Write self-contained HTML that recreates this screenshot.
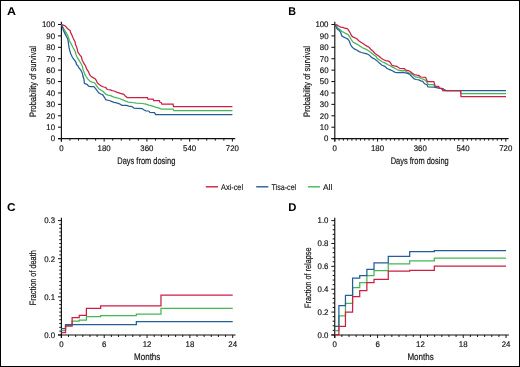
<!DOCTYPE html>
<html><head><meta charset="utf-8"><title>Figure</title>
<style>
html,body{margin:0;padding:0;background:#fff;}
body{width:520px;height:367px;overflow:hidden;}
svg{display:block;will-change:transform;}
text{text-rendering:geometricPrecision;}
.tk{font-family:"Liberation Sans", sans-serif;font-size:8.2px;fill:#111;stroke:#111;stroke-width:0.16px;}
.al{font-family:"Liberation Sans", sans-serif;font-size:9.6px;fill:#111;stroke:#111;stroke-width:0.18px;}
.lg{font-family:"Liberation Sans", sans-serif;font-size:8.3px;fill:#111;stroke:#111;stroke-width:0.12px;}
.yl{font-size:9.3px;}
.lt{font-family:"Liberation Sans", sans-serif;font-size:11.3px;font-weight:bold;fill:#000;}
</style></head><body>
<svg width="520" height="367" viewBox="0 0 520 367">
<rect x="0.5" y="0.5" width="519" height="366" fill="#fff" stroke="#000" stroke-width="1"/>
<text transform="translate(6.9,14.8) scale(1.1,1)" class="lt">A</text>
<path d="M61.4,21.7 V141.6" stroke="#111" stroke-width="1.15" fill="none"/>
<path d="M58,138.6 H235.2" stroke="#111" stroke-width="1.15" fill="none"/>
<path d="M58,138.6 H61.4" stroke="#111" stroke-width="1.05"/>
<text transform="translate(55.1,141.4) scale(0.96,1)" class="tk" text-anchor="end">0</text>
<path d="M58,127.19 H61.4" stroke="#111" stroke-width="1.05"/>
<text transform="translate(55.1,129.99) scale(0.96,1)" class="tk" text-anchor="end">10</text>
<path d="M58,115.78 H61.4" stroke="#111" stroke-width="1.05"/>
<text transform="translate(55.1,118.58) scale(0.96,1)" class="tk" text-anchor="end">20</text>
<path d="M58,104.37 H61.4" stroke="#111" stroke-width="1.05"/>
<text transform="translate(55.1,107.17) scale(0.96,1)" class="tk" text-anchor="end">30</text>
<path d="M58,92.96 H61.4" stroke="#111" stroke-width="1.05"/>
<text transform="translate(55.1,95.76) scale(0.96,1)" class="tk" text-anchor="end">40</text>
<path d="M58,81.55 H61.4" stroke="#111" stroke-width="1.05"/>
<text transform="translate(55.1,84.35) scale(0.96,1)" class="tk" text-anchor="end">50</text>
<path d="M58,70.14 H61.4" stroke="#111" stroke-width="1.05"/>
<text transform="translate(55.1,72.94) scale(0.96,1)" class="tk" text-anchor="end">60</text>
<path d="M58,58.73 H61.4" stroke="#111" stroke-width="1.05"/>
<text transform="translate(55.1,61.53) scale(0.96,1)" class="tk" text-anchor="end">70</text>
<path d="M58,47.32 H61.4" stroke="#111" stroke-width="1.05"/>
<text transform="translate(55.1,50.12) scale(0.96,1)" class="tk" text-anchor="end">80</text>
<path d="M58,35.91 H61.4" stroke="#111" stroke-width="1.05"/>
<text transform="translate(55.1,38.71) scale(0.96,1)" class="tk" text-anchor="end">90</text>
<path d="M58,24.5 H61.4" stroke="#111" stroke-width="1.05"/>
<text transform="translate(55.1,27.3) scale(0.96,1)" class="tk" text-anchor="end">100</text>
<path d="M61.4,138.6 V141.6" stroke="#111" stroke-width="1.0"/>
<path d="M69.95,138.6 V140.6" stroke="#111" stroke-width="1.0"/>
<path d="M78.5,138.6 V140.6" stroke="#111" stroke-width="1.0"/>
<path d="M87.05,138.6 V140.6" stroke="#111" stroke-width="1.0"/>
<path d="M95.6,138.6 V140.6" stroke="#111" stroke-width="1.0"/>
<path d="M104.15,138.6 V141.6" stroke="#111" stroke-width="1.0"/>
<path d="M112.7,138.6 V140.6" stroke="#111" stroke-width="1.0"/>
<path d="M121.25,138.6 V140.6" stroke="#111" stroke-width="1.0"/>
<path d="M129.8,138.6 V140.6" stroke="#111" stroke-width="1.0"/>
<path d="M138.35,138.6 V140.6" stroke="#111" stroke-width="1.0"/>
<path d="M146.9,138.6 V141.6" stroke="#111" stroke-width="1.0"/>
<path d="M155.45,138.6 V140.6" stroke="#111" stroke-width="1.0"/>
<path d="M164,138.6 V140.6" stroke="#111" stroke-width="1.0"/>
<path d="M172.55,138.6 V140.6" stroke="#111" stroke-width="1.0"/>
<path d="M181.1,138.6 V140.6" stroke="#111" stroke-width="1.0"/>
<path d="M189.65,138.6 V141.6" stroke="#111" stroke-width="1.0"/>
<path d="M198.2,138.6 V140.6" stroke="#111" stroke-width="1.0"/>
<path d="M206.75,138.6 V140.6" stroke="#111" stroke-width="1.0"/>
<path d="M215.3,138.6 V140.6" stroke="#111" stroke-width="1.0"/>
<path d="M223.85,138.6 V140.6" stroke="#111" stroke-width="1.0"/>
<path d="M232.4,138.6 V141.6" stroke="#111" stroke-width="1.0"/>
<text transform="translate(61.4,150.6) scale(0.96,1)" class="tk" text-anchor="middle">0</text>
<text transform="translate(104.15,150.6) scale(0.96,1)" class="tk" text-anchor="middle">180</text>
<text transform="translate(146.9,150.6) scale(0.96,1)" class="tk" text-anchor="middle">360</text>
<text transform="translate(189.65,150.6) scale(0.96,1)" class="tk" text-anchor="middle">540</text>
<text transform="translate(232.4,150.6) scale(0.96,1)" class="tk" text-anchor="middle">720</text>
<text x="146.3" y="163.6" class="al" text-anchor="middle" textLength="58" lengthAdjust="spacingAndGlyphs">Days from dosing</text>
<text transform="translate(35.7,81.5) rotate(-90)" class="al yl" text-anchor="middle" textLength="71" lengthAdjust="spacingAndGlyphs">Probability of survival</text>
<text transform="translate(288.3,14.8) scale(0.95,1)" class="lt">B</text>
<path d="M334.8,21.7 V141.6" stroke="#111" stroke-width="1.15" fill="none"/>
<path d="M331.4,138.6 H508.6" stroke="#111" stroke-width="1.15" fill="none"/>
<path d="M331.4,138.6 H334.8" stroke="#111" stroke-width="1.05"/>
<text transform="translate(328.5,141.4) scale(0.96,1)" class="tk" text-anchor="end">0</text>
<path d="M331.4,127.19 H334.8" stroke="#111" stroke-width="1.05"/>
<text transform="translate(328.5,129.99) scale(0.96,1)" class="tk" text-anchor="end">10</text>
<path d="M331.4,115.78 H334.8" stroke="#111" stroke-width="1.05"/>
<text transform="translate(328.5,118.58) scale(0.96,1)" class="tk" text-anchor="end">20</text>
<path d="M331.4,104.37 H334.8" stroke="#111" stroke-width="1.05"/>
<text transform="translate(328.5,107.17) scale(0.96,1)" class="tk" text-anchor="end">30</text>
<path d="M331.4,92.96 H334.8" stroke="#111" stroke-width="1.05"/>
<text transform="translate(328.5,95.76) scale(0.96,1)" class="tk" text-anchor="end">40</text>
<path d="M331.4,81.55 H334.8" stroke="#111" stroke-width="1.05"/>
<text transform="translate(328.5,84.35) scale(0.96,1)" class="tk" text-anchor="end">50</text>
<path d="M331.4,70.14 H334.8" stroke="#111" stroke-width="1.05"/>
<text transform="translate(328.5,72.94) scale(0.96,1)" class="tk" text-anchor="end">60</text>
<path d="M331.4,58.73 H334.8" stroke="#111" stroke-width="1.05"/>
<text transform="translate(328.5,61.53) scale(0.96,1)" class="tk" text-anchor="end">70</text>
<path d="M331.4,47.32 H334.8" stroke="#111" stroke-width="1.05"/>
<text transform="translate(328.5,50.12) scale(0.96,1)" class="tk" text-anchor="end">80</text>
<path d="M331.4,35.91 H334.8" stroke="#111" stroke-width="1.05"/>
<text transform="translate(328.5,38.71) scale(0.96,1)" class="tk" text-anchor="end">90</text>
<path d="M331.4,24.5 H334.8" stroke="#111" stroke-width="1.05"/>
<text transform="translate(328.5,27.3) scale(0.96,1)" class="tk" text-anchor="end">100</text>
<path d="M334.8,138.6 V141.6" stroke="#111" stroke-width="1.0"/>
<path d="M339.07,138.6 V140.6" stroke="#111" stroke-width="1.0"/>
<path d="M343.35,138.6 V140.6" stroke="#111" stroke-width="1.0"/>
<path d="M347.62,138.6 V140.6" stroke="#111" stroke-width="1.0"/>
<path d="M351.9,138.6 V140.6" stroke="#111" stroke-width="1.0"/>
<path d="M356.18,138.6 V140.6" stroke="#111" stroke-width="1.0"/>
<path d="M360.45,138.6 V140.6" stroke="#111" stroke-width="1.0"/>
<path d="M364.73,138.6 V140.6" stroke="#111" stroke-width="1.0"/>
<path d="M369,138.6 V140.6" stroke="#111" stroke-width="1.0"/>
<path d="M373.28,138.6 V140.6" stroke="#111" stroke-width="1.0"/>
<path d="M377.55,138.6 V141.6" stroke="#111" stroke-width="1.0"/>
<path d="M381.83,138.6 V140.6" stroke="#111" stroke-width="1.0"/>
<path d="M386.1,138.6 V140.6" stroke="#111" stroke-width="1.0"/>
<path d="M390.38,138.6 V140.6" stroke="#111" stroke-width="1.0"/>
<path d="M394.65,138.6 V140.6" stroke="#111" stroke-width="1.0"/>
<path d="M398.93,138.6 V140.6" stroke="#111" stroke-width="1.0"/>
<path d="M403.2,138.6 V140.6" stroke="#111" stroke-width="1.0"/>
<path d="M407.48,138.6 V140.6" stroke="#111" stroke-width="1.0"/>
<path d="M411.75,138.6 V140.6" stroke="#111" stroke-width="1.0"/>
<path d="M416.03,138.6 V140.6" stroke="#111" stroke-width="1.0"/>
<path d="M420.3,138.6 V141.6" stroke="#111" stroke-width="1.0"/>
<path d="M424.58,138.6 V140.6" stroke="#111" stroke-width="1.0"/>
<path d="M428.85,138.6 V140.6" stroke="#111" stroke-width="1.0"/>
<path d="M433.12,138.6 V140.6" stroke="#111" stroke-width="1.0"/>
<path d="M437.4,138.6 V140.6" stroke="#111" stroke-width="1.0"/>
<path d="M441.68,138.6 V140.6" stroke="#111" stroke-width="1.0"/>
<path d="M445.95,138.6 V140.6" stroke="#111" stroke-width="1.0"/>
<path d="M450.23,138.6 V140.6" stroke="#111" stroke-width="1.0"/>
<path d="M454.5,138.6 V140.6" stroke="#111" stroke-width="1.0"/>
<path d="M458.78,138.6 V140.6" stroke="#111" stroke-width="1.0"/>
<path d="M463.05,138.6 V141.6" stroke="#111" stroke-width="1.0"/>
<path d="M467.33,138.6 V140.6" stroke="#111" stroke-width="1.0"/>
<path d="M471.6,138.6 V140.6" stroke="#111" stroke-width="1.0"/>
<path d="M475.88,138.6 V140.6" stroke="#111" stroke-width="1.0"/>
<path d="M480.15,138.6 V140.6" stroke="#111" stroke-width="1.0"/>
<path d="M484.43,138.6 V140.6" stroke="#111" stroke-width="1.0"/>
<path d="M488.7,138.6 V140.6" stroke="#111" stroke-width="1.0"/>
<path d="M492.98,138.6 V140.6" stroke="#111" stroke-width="1.0"/>
<path d="M497.25,138.6 V140.6" stroke="#111" stroke-width="1.0"/>
<path d="M501.53,138.6 V140.6" stroke="#111" stroke-width="1.0"/>
<path d="M505.8,138.6 V141.6" stroke="#111" stroke-width="1.0"/>
<text transform="translate(334.8,150.6) scale(0.96,1)" class="tk" text-anchor="middle">0</text>
<text transform="translate(377.55,150.6) scale(0.96,1)" class="tk" text-anchor="middle">180</text>
<text transform="translate(420.3,150.6) scale(0.96,1)" class="tk" text-anchor="middle">360</text>
<text transform="translate(463.05,150.6) scale(0.96,1)" class="tk" text-anchor="middle">540</text>
<text transform="translate(505.8,150.6) scale(0.96,1)" class="tk" text-anchor="middle">720</text>
<text x="419.7" y="163.6" class="al" text-anchor="middle" textLength="58" lengthAdjust="spacingAndGlyphs">Days from dosing</text>
<text transform="translate(309.8,81.5) rotate(-90)" class="al yl" text-anchor="middle" textLength="71" lengthAdjust="spacingAndGlyphs">Probability of survival</text>
<text transform="translate(7,211.3) scale(1.06,1)" class="lt">C</text>
<path d="M61.4,217.8 V337.95" stroke="#111" stroke-width="1.15" fill="none"/>
<path d="M58,334.95 H235.5" stroke="#111" stroke-width="1.15" fill="none"/>
<path d="M58,334.95 H61.4" stroke="#111" stroke-width="1.0"/>
<path d="M59.3,331.14 H61.4" stroke="#111" stroke-width="1.0"/>
<path d="M59.3,327.33 H61.4" stroke="#111" stroke-width="1.0"/>
<path d="M59.3,323.51 H61.4" stroke="#111" stroke-width="1.0"/>
<path d="M59.3,319.7 H61.4" stroke="#111" stroke-width="1.0"/>
<path d="M59.3,315.89 H61.4" stroke="#111" stroke-width="1.0"/>
<path d="M59.3,312.08 H61.4" stroke="#111" stroke-width="1.0"/>
<path d="M59.3,308.27 H61.4" stroke="#111" stroke-width="1.0"/>
<path d="M59.3,304.46 H61.4" stroke="#111" stroke-width="1.0"/>
<path d="M59.3,300.64 H61.4" stroke="#111" stroke-width="1.0"/>
<path d="M58,296.83 H61.4" stroke="#111" stroke-width="1.0"/>
<path d="M59.3,293.02 H61.4" stroke="#111" stroke-width="1.0"/>
<path d="M59.3,289.21 H61.4" stroke="#111" stroke-width="1.0"/>
<path d="M59.3,285.4 H61.4" stroke="#111" stroke-width="1.0"/>
<path d="M59.3,281.59 H61.4" stroke="#111" stroke-width="1.0"/>
<path d="M59.3,277.77 H61.4" stroke="#111" stroke-width="1.0"/>
<path d="M59.3,273.96 H61.4" stroke="#111" stroke-width="1.0"/>
<path d="M59.3,270.15 H61.4" stroke="#111" stroke-width="1.0"/>
<path d="M59.3,266.34 H61.4" stroke="#111" stroke-width="1.0"/>
<path d="M59.3,262.53 H61.4" stroke="#111" stroke-width="1.0"/>
<path d="M58,258.72 H61.4" stroke="#111" stroke-width="1.0"/>
<path d="M59.3,254.9 H61.4" stroke="#111" stroke-width="1.0"/>
<path d="M59.3,251.09 H61.4" stroke="#111" stroke-width="1.0"/>
<path d="M59.3,247.28 H61.4" stroke="#111" stroke-width="1.0"/>
<path d="M59.3,243.47 H61.4" stroke="#111" stroke-width="1.0"/>
<path d="M59.3,239.66 H61.4" stroke="#111" stroke-width="1.0"/>
<path d="M59.3,235.85 H61.4" stroke="#111" stroke-width="1.0"/>
<path d="M59.3,232.03 H61.4" stroke="#111" stroke-width="1.0"/>
<path d="M59.3,228.22 H61.4" stroke="#111" stroke-width="1.0"/>
<path d="M59.3,224.41 H61.4" stroke="#111" stroke-width="1.0"/>
<path d="M58,220.6 H61.4" stroke="#111" stroke-width="1.0"/>
<text transform="translate(55.1,337.75) scale(0.96,1)" class="tk" text-anchor="end">0.0</text>
<text transform="translate(55.1,299.63) scale(0.96,1)" class="tk" text-anchor="end">0.1</text>
<text transform="translate(55.1,261.52) scale(0.96,1)" class="tk" text-anchor="end">0.2</text>
<text transform="translate(55.1,223.4) scale(0.96,1)" class="tk" text-anchor="end">0.3</text>
<path d="M61.4,334.95 V337.95" stroke="#111" stroke-width="1.0"/>
<path d="M68.54,334.95 V336.95" stroke="#111" stroke-width="1.0"/>
<path d="M75.67,334.95 V336.95" stroke="#111" stroke-width="1.0"/>
<path d="M82.81,334.95 V336.95" stroke="#111" stroke-width="1.0"/>
<path d="M89.95,334.95 V336.95" stroke="#111" stroke-width="1.0"/>
<path d="M97.09,334.95 V336.95" stroke="#111" stroke-width="1.0"/>
<path d="M104.22,334.95 V337.95" stroke="#111" stroke-width="1.0"/>
<path d="M111.36,334.95 V336.95" stroke="#111" stroke-width="1.0"/>
<path d="M118.5,334.95 V336.95" stroke="#111" stroke-width="1.0"/>
<path d="M125.64,334.95 V336.95" stroke="#111" stroke-width="1.0"/>
<path d="M132.78,334.95 V336.95" stroke="#111" stroke-width="1.0"/>
<path d="M139.91,334.95 V336.95" stroke="#111" stroke-width="1.0"/>
<path d="M147.05,334.95 V337.95" stroke="#111" stroke-width="1.0"/>
<path d="M154.19,334.95 V336.95" stroke="#111" stroke-width="1.0"/>
<path d="M161.32,334.95 V336.95" stroke="#111" stroke-width="1.0"/>
<path d="M168.46,334.95 V336.95" stroke="#111" stroke-width="1.0"/>
<path d="M175.6,334.95 V336.95" stroke="#111" stroke-width="1.0"/>
<path d="M182.74,334.95 V336.95" stroke="#111" stroke-width="1.0"/>
<path d="M189.88,334.95 V337.95" stroke="#111" stroke-width="1.0"/>
<path d="M197.01,334.95 V336.95" stroke="#111" stroke-width="1.0"/>
<path d="M204.15,334.95 V336.95" stroke="#111" stroke-width="1.0"/>
<path d="M211.29,334.95 V336.95" stroke="#111" stroke-width="1.0"/>
<path d="M218.43,334.95 V336.95" stroke="#111" stroke-width="1.0"/>
<path d="M225.56,334.95 V336.95" stroke="#111" stroke-width="1.0"/>
<path d="M232.7,334.95 V337.95" stroke="#111" stroke-width="1.0"/>
<text transform="translate(61.4,346.9) scale(0.96,1)" class="tk" text-anchor="middle">0</text>
<text transform="translate(104.22,346.9) scale(0.96,1)" class="tk" text-anchor="middle">6</text>
<text transform="translate(147.05,346.9) scale(0.96,1)" class="tk" text-anchor="middle">12</text>
<text transform="translate(189.88,346.9) scale(0.96,1)" class="tk" text-anchor="middle">18</text>
<text transform="translate(232.7,346.9) scale(0.96,1)" class="tk" text-anchor="middle">24</text>
<text x="147.2" y="360" class="al" text-anchor="middle" textLength="26.3" lengthAdjust="spacingAndGlyphs">Months</text>
<text transform="translate(36.3,277.7) rotate(-90)" class="al yl" text-anchor="middle" textLength="55" lengthAdjust="spacingAndGlyphs">Fraction of death</text>
<text transform="translate(288.3,211.3) scale(1.0,1)" class="lt">D</text>
<path d="M334.75,217.8 V337.95" stroke="#111" stroke-width="1.15" fill="none"/>
<path d="M331.35,334.95 H508.85" stroke="#111" stroke-width="1.15" fill="none"/>
<path d="M331.35,334.95 H334.75" stroke="#111" stroke-width="1.0"/>
<path d="M332.65,330.38 H334.75" stroke="#111" stroke-width="1.0"/>
<path d="M332.65,325.8 H334.75" stroke="#111" stroke-width="1.0"/>
<path d="M332.65,321.23 H334.75" stroke="#111" stroke-width="1.0"/>
<path d="M332.65,316.65 H334.75" stroke="#111" stroke-width="1.0"/>
<path d="M331.35,312.08 H334.75" stroke="#111" stroke-width="1.0"/>
<path d="M332.65,307.51 H334.75" stroke="#111" stroke-width="1.0"/>
<path d="M332.65,302.93 H334.75" stroke="#111" stroke-width="1.0"/>
<path d="M332.65,298.36 H334.75" stroke="#111" stroke-width="1.0"/>
<path d="M332.65,293.78 H334.75" stroke="#111" stroke-width="1.0"/>
<path d="M331.35,289.21 H334.75" stroke="#111" stroke-width="1.0"/>
<path d="M332.65,284.64 H334.75" stroke="#111" stroke-width="1.0"/>
<path d="M332.65,280.06 H334.75" stroke="#111" stroke-width="1.0"/>
<path d="M332.65,275.49 H334.75" stroke="#111" stroke-width="1.0"/>
<path d="M332.65,270.91 H334.75" stroke="#111" stroke-width="1.0"/>
<path d="M331.35,266.34 H334.75" stroke="#111" stroke-width="1.0"/>
<path d="M332.65,261.77 H334.75" stroke="#111" stroke-width="1.0"/>
<path d="M332.65,257.19 H334.75" stroke="#111" stroke-width="1.0"/>
<path d="M332.65,252.62 H334.75" stroke="#111" stroke-width="1.0"/>
<path d="M332.65,248.04 H334.75" stroke="#111" stroke-width="1.0"/>
<path d="M331.35,243.47 H334.75" stroke="#111" stroke-width="1.0"/>
<path d="M332.65,238.9 H334.75" stroke="#111" stroke-width="1.0"/>
<path d="M332.65,234.32 H334.75" stroke="#111" stroke-width="1.0"/>
<path d="M332.65,229.75 H334.75" stroke="#111" stroke-width="1.0"/>
<path d="M332.65,225.17 H334.75" stroke="#111" stroke-width="1.0"/>
<path d="M331.35,220.6 H334.75" stroke="#111" stroke-width="1.0"/>
<text transform="translate(328.45,337.75) scale(0.96,1)" class="tk" text-anchor="end">0.0</text>
<text transform="translate(328.45,314.88) scale(0.96,1)" class="tk" text-anchor="end">0.2</text>
<text transform="translate(328.45,292.01) scale(0.96,1)" class="tk" text-anchor="end">0.4</text>
<text transform="translate(328.45,269.14) scale(0.96,1)" class="tk" text-anchor="end">0.6</text>
<text transform="translate(328.45,246.27) scale(0.96,1)" class="tk" text-anchor="end">0.8</text>
<text transform="translate(328.45,223.4) scale(0.96,1)" class="tk" text-anchor="end">1.0</text>
<path d="M334.75,334.95 V337.95" stroke="#111" stroke-width="1.0"/>
<path d="M341.89,334.95 V336.95" stroke="#111" stroke-width="1.0"/>
<path d="M349.02,334.95 V336.95" stroke="#111" stroke-width="1.0"/>
<path d="M356.16,334.95 V336.95" stroke="#111" stroke-width="1.0"/>
<path d="M363.3,334.95 V336.95" stroke="#111" stroke-width="1.0"/>
<path d="M370.44,334.95 V336.95" stroke="#111" stroke-width="1.0"/>
<path d="M377.57,334.95 V337.95" stroke="#111" stroke-width="1.0"/>
<path d="M384.71,334.95 V336.95" stroke="#111" stroke-width="1.0"/>
<path d="M391.85,334.95 V336.95" stroke="#111" stroke-width="1.0"/>
<path d="M398.99,334.95 V336.95" stroke="#111" stroke-width="1.0"/>
<path d="M406.12,334.95 V336.95" stroke="#111" stroke-width="1.0"/>
<path d="M413.26,334.95 V336.95" stroke="#111" stroke-width="1.0"/>
<path d="M420.4,334.95 V337.95" stroke="#111" stroke-width="1.0"/>
<path d="M427.54,334.95 V336.95" stroke="#111" stroke-width="1.0"/>
<path d="M434.68,334.95 V336.95" stroke="#111" stroke-width="1.0"/>
<path d="M441.81,334.95 V336.95" stroke="#111" stroke-width="1.0"/>
<path d="M448.95,334.95 V336.95" stroke="#111" stroke-width="1.0"/>
<path d="M456.09,334.95 V336.95" stroke="#111" stroke-width="1.0"/>
<path d="M463.23,334.95 V337.95" stroke="#111" stroke-width="1.0"/>
<path d="M470.36,334.95 V336.95" stroke="#111" stroke-width="1.0"/>
<path d="M477.5,334.95 V336.95" stroke="#111" stroke-width="1.0"/>
<path d="M484.64,334.95 V336.95" stroke="#111" stroke-width="1.0"/>
<path d="M491.77,334.95 V336.95" stroke="#111" stroke-width="1.0"/>
<path d="M498.91,334.95 V336.95" stroke="#111" stroke-width="1.0"/>
<path d="M506.05,334.95 V337.95" stroke="#111" stroke-width="1.0"/>
<text transform="translate(334.75,346.9) scale(0.96,1)" class="tk" text-anchor="middle">0</text>
<text transform="translate(377.57,346.9) scale(0.96,1)" class="tk" text-anchor="middle">6</text>
<text transform="translate(420.4,346.9) scale(0.96,1)" class="tk" text-anchor="middle">12</text>
<text transform="translate(463.23,346.9) scale(0.96,1)" class="tk" text-anchor="middle">18</text>
<text transform="translate(506.05,346.9) scale(0.96,1)" class="tk" text-anchor="middle">24</text>
<text x="420.55" y="360" class="al" text-anchor="middle" textLength="26.3" lengthAdjust="spacingAndGlyphs">Months</text>
<text transform="translate(311.05,277.7) rotate(-90)" class="al yl" text-anchor="middle" textLength="60.5" lengthAdjust="spacingAndGlyphs">Fraction of relapse</text>
<path d="M61.4,24.6 L62.9,27.3 L64.1,29.4 L65.3,31.4 L66.5,33.4 L67.8,35.5 L68.6,37.9 L69.4,40.4 L70.6,42.9 L71.9,45.3 L73.1,47.8 L74.7,50.6 L75.5,52.5 L76.1,54.9 L77.3,57.7 L79,60.2 L80.2,62.2 L81.4,64.3 L82.2,65.9 L83,69.2 L83.9,71.6 L85.1,74.9 L86.4,77 L88,79.2 L89.7,81 L91.8,82.1 L94.2,82.5 L95.4,83.8 L96.3,85.4 L97.5,87 L99.1,89.1 L101.2,90.3 L103.2,91.5 L104.9,93.2 L106.1,94.4 L108.1,95.2 L110.6,95.6 L112.2,96.4 L114,97.1 L116.1,97.6 L119.4,98.5 L122.9,99.9 L125.8,101.2 L128.2,102.1 L132.5,102.5 L136.3,103.1 L142.1,103.5 L146,104.2 L148.8,105.2 L152.7,106.2 L155.6,107.1 L158.5,107.9 L161.3,109 L173.1,109 L173.8,110.5 L232.4,110.5" fill="none" stroke="#46b655" stroke-width="1.25" stroke-linejoin="miter" stroke-linecap="butt"/>
<path d="M61.4,24.6 L62.5,26.9 L63.3,30.2 L64.5,32.6 L65.7,35.1 L67,37.5 L67.8,39.2 L68.2,41.6 L68.6,44.5 L69,47.3 L69.8,50.6 L70.6,53.5 L72,56.5 L73.2,58.5 L74.9,60.6 L76.1,62.6 L76.5,64.7 L77.7,65.5 L78.5,67.1 L79.8,68.8 L81,70.4 L81.8,72 L82.6,74.1 L83,76.5 L83.9,79 L84.4,83.4 L85.6,83.8 L87.3,84.6 L88.5,86.2 L90.5,86.6 L93.8,86.6 L95.4,88.3 L97.1,90.7 L98.7,92.8 L100.8,94 L102.8,94.8 L104.4,97.3 L105.7,99.7 L107.3,100.1 L109.3,100.5 L111.4,101.3 L114,102.4 L116.7,102.9 L119.4,103.8 L121.9,105.4 L126.7,105.4 L128.7,106.2 L132,106.6 L133.9,108.1 L142.1,108.6 L143.6,109.8 L146,110.8 L148.8,111 L149.8,112.4 L154.6,112.7 L155.6,114.5 L232.4,114.5" fill="none" stroke="#255d97" stroke-width="1.25" stroke-linejoin="miter" stroke-linecap="butt"/>
<path d="M61.4,24.6 L63.3,25.1 L64.9,25.7 L66.1,26.9 L67.4,28.5 L69,29.8 L70.2,30.6 L70.6,32.6 L71.9,35.1 L73.1,37.9 L74.3,40.4 L75.1,42 L75.5,44.5 L76.4,46.5 L77.2,49 L77.8,52 L79.8,54.9 L81.4,56.9 L82.2,60.2 L83.9,63.4 L85.5,65.9 L86.7,69.2 L88.4,71.6 L89.6,74.6 L91.3,76.6 L93.4,77.9 L95.1,78.8 L96.4,80.5 L97.1,82.4 L98.3,83.8 L99.9,85 L101.6,86.2 L103.6,87 L105.7,87.4 L106.5,88.7 L107.7,89.5 L110.2,89.9 L112.2,90.6 L114,91 L117.2,92.3 L120.5,93.4 L123.8,94.4 L125.3,96.1 L127.2,97.5 L147.4,97.5 L147.9,99.2 L153.2,99.2 L153.7,100.6 L159.4,100.6 L159.9,102.3 L161.3,102.5 L161.8,104.2 L173.1,104.2 L173.5,106.5 L232.4,106.5" fill="none" stroke="#cc1f45" stroke-width="1.25" stroke-linejoin="miter" stroke-linecap="butt"/>
<path d="M335,24.6 L336.4,26 L338,28.2 L340.2,29.8 L341.8,31.4 L344,32.5 L346.2,33.6 L348.3,34.7 L350,37.4 L351.6,40.2 L353.2,42.3 L355.4,43.4 L357.6,44.5 L359.8,46.1 L362.5,47.8 L365.2,48.9 L367.4,50 L369.6,51.6 L371.8,53.2 L373.9,54.9 L376.1,56.5 L377.2,58.2 L379.9,60.3 L382.6,62 L385.3,63.1 L388.1,64.7 L390.3,65.8 L393,67.4 L395.7,68.7 L398.4,70.2 L401.1,70.5 L404.4,70.5 L406.6,71.8 L408.8,72.9 L411,73.4 L413.1,75.1 L415.3,76.8 L418.8,77.3 L420.8,78.5 L423.7,79.4 L425.6,80.4 L427.5,83.3 L428.5,84.7 L433.8,84.7 L434.7,86.6 L438.6,87 L439.5,88.3 L441.9,88.8 L442.9,90.5 L460.6,90.5 L461,93.6 L506,93.6" fill="none" stroke="#46b655" stroke-width="1.25" stroke-linejoin="miter" stroke-linecap="butt"/>
<path d="M335,24.6 L335.8,26.5 L337.4,29.3 L339.1,30.3 L340.7,32.5 L341.8,35.8 L343.4,36.9 L345.6,38 L347.8,39.1 L349.4,41.2 L350.5,44.5 L352.2,47.2 L354.3,48.9 L357.1,50.3 L359.2,51.6 L361.4,52.5 L364.1,53.2 L366.9,53.8 L369,54.9 L370.7,56.5 L372.3,57.9 L375,59.3 L377.2,60.9 L379.4,63.1 L382.1,65.3 L384.8,66.3 L387,68.5 L389.7,69.6 L392.4,70.7 L395.2,72.3 L397.9,72.7 L403.3,72.5 L405.5,72.9 L407.7,73.4 L409.9,74.5 L412,76.7 L414.2,78.9 L416.4,79.5 L418.8,79.9 L420.8,80.9 L422.7,81.3 L424.6,83.8 L427,84.7 L428,86.9 L434.2,87.1 L438.6,88.1 L442.9,88.6 L443.8,89.2 L446,90.5 L506,90.5" fill="none" stroke="#255d97" stroke-width="1.25" stroke-linejoin="miter" stroke-linecap="butt"/>
<path d="M335,24.6 L336.9,24.9 L338.5,26 L340.7,27.1 L342.9,27.4 L344.5,28.2 L347.3,28.7 L348.3,29.8 L350,32.5 L351.6,35.8 L353.2,37.2 L355.4,38 L357.1,39.1 L358.7,40.7 L360.9,42.3 L363,43.4 L364.7,44.8 L366.9,46.1 L369,47.2 L370.7,49.2 L372.8,51 L375,53.4 L377.2,54.9 L379.4,56.5 L381.5,58.5 L383.7,59.8 L385.9,60.6 L388.6,61.2 L390.3,62.5 L391.9,65.3 L394.1,65.8 L396.8,66.3 L398.4,67.4 L400.1,68.5 L404.4,68.7 L406,70.2 L408.2,70.7 L409.9,71.2 L412,72.9 L414.2,74.5 L416.9,75.1 L418.8,75.4 L420.8,77 L425.6,77.3 L426.5,79.4 L427.5,81.5 L433.8,81.5 L435.2,86.2 L438.6,86.3 L439.5,88.1 L441.9,88.6 L442.9,90.5 L460.6,90.5 L461,96.5 L506,96.5" fill="none" stroke="#cc1f45" stroke-width="1.25" stroke-linejoin="miter" stroke-linecap="butt"/>
<path d="M61.4,330.6 L65.54,330.6 L65.54,325.4 L72.11,325.4 L72.11,321.1 L79.24,321.1 L79.24,320 L86.38,320 L86.38,316.6 L93.52,316.6 L93.52,316.6 L100.66,316.6 L100.66,315.6 L114.93,315.6 L114.93,315.6 L136.34,315.6 L136.34,314.1 L160.97,314.1 L160.97,308.4 L232.7,308.4" fill="none" stroke="#46b655" stroke-width="1.25" stroke-linejoin="miter" stroke-linecap="butt"/>
<path d="M61.4,328.7 L65.54,328.7 L65.54,324.5 L72.11,324.5 L72.11,324.5 L79.24,324.5 L79.24,324.5 L86.38,324.5 L86.38,324.5 L93.52,324.5 L93.52,324.5 L100.66,324.5 L100.66,324.5 L114.93,324.5 L114.93,324.5 L136.34,324.5 L136.34,321.5 L160.97,321.5 L160.97,321.5 L232.7,321.5" fill="none" stroke="#255d97" stroke-width="1.25" stroke-linejoin="miter" stroke-linecap="butt"/>
<path d="M61.4,332.6 L65.54,332.6 L65.54,326.2 L72.11,326.2 L72.11,317.5 L79.24,317.5 L79.24,315.4 L86.38,315.4 L86.38,308.3 L93.52,308.3 L93.52,308.3 L100.66,308.3 L100.66,305.8 L114.93,305.8 L114.93,305.8 L136.34,305.8 L136.34,305.8 L160.97,305.8 L160.97,295.2 L232.7,295.2" fill="none" stroke="#cc1f45" stroke-width="1.25" stroke-linejoin="miter" stroke-linecap="butt"/>
<path d="M334.75,330.5 L338.89,330.5 L338.89,315.9 L345.46,315.9 L345.46,303.3 L352.59,303.3 L352.59,287.5 L359.73,287.5 L359.73,282.5 L366.87,282.5 L366.87,275.6 L374.01,275.6 L374.01,270.5 L388.28,270.5 L388.28,263.75 L409.69,263.75 L409.69,260.9 L434.32,260.9 L434.32,258.2 L506.05,258.2" fill="none" stroke="#46b655" stroke-width="1.25" stroke-linejoin="miter" stroke-linecap="butt"/>
<path d="M334.75,326.3 L338.89,326.3 L338.89,305.7 L345.46,305.7 L345.46,295.3 L352.59,295.3 L352.59,278.1 L359.73,278.1 L359.73,275.6 L366.87,275.6 L366.87,269.4 L374.01,269.4 L374.01,262.9 L388.28,262.9 L388.28,256.25 L409.69,256.25 L409.69,251.6 L434.32,251.6 L434.32,250.5 L506.05,250.5" fill="none" stroke="#255d97" stroke-width="1.25" stroke-linejoin="miter" stroke-linecap="butt"/>
<path d="M334.75,334.5 L338.89,334.5 L338.89,326.4 L345.46,326.4 L345.46,312.1 L352.59,312.1 L352.59,296.6 L359.73,296.6 L359.73,290.5 L366.87,290.5 L366.87,282.5 L374.01,282.5 L374.01,279.4 L388.28,279.4 L388.28,271.1 L409.69,271.1 L409.69,270.3 L434.32,270.3 L434.32,266.2 L506.05,266.2" fill="none" stroke="#cc1f45" stroke-width="1.25" stroke-linejoin="miter" stroke-linecap="butt"/>
<path d="M205.8,186.8 H218" stroke="#cc1f45" stroke-width="1.4"/>
<text x="221" y="189.5" class="lg" textLength="22.1" lengthAdjust="spacingAndGlyphs">Axi-cel</text>
<path d="M256.2,186.8 H268.3" stroke="#255d97" stroke-width="1.4"/>
<text x="271.5" y="189.5" class="lg" textLength="24.7" lengthAdjust="spacingAndGlyphs">Tisa-cel</text>
<path d="M307.9,186.8 H319.9" stroke="#46b655" stroke-width="1.4"/>
<text x="322.9" y="189.5" class="lg" textLength="9.4" lengthAdjust="spacingAndGlyphs">All</text>
</svg>
</body></html>
